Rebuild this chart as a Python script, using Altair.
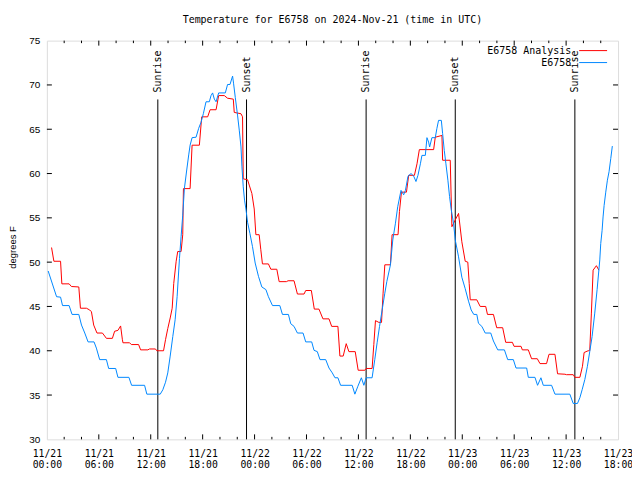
import json
import altair as alt
import pandas as pd

TITLE = "Temperature for E6758 on 2024-Nov-21 (time in UTC)"
Y_TITLE = "degrees F"
SERIES_NAMES = ["E6758 Analysis", "E6758"]
SERIES_COLORS = ["#ff0000", "#0088ff"]

# hours since 2024-11-21 00:00 UTC
TICK_HOURS = [0, 6, 12, 18, 24, 30, 36, 42, 48, 54, 60, 66]
TICK_DATES = ["11/21", "11/21", "11/21", "11/21", "11/22", "11/22", "11/22", "11/22",
              "11/23", "11/23", "11/23", "11/23"]
TICK_TIMES = ["00:00", "06:00", "12:00", "18:00"] * 3
MINOR_HOURS = [2, 4, 8, 10, 14, 16, 20, 22, 26, 28, 32, 34, 38, 40, 44, 46, 50, 52, 56, 58, 62, 64]
Y_TICKS = [30, 35, 40, 45, 50, 55, 60, 65, 70, 75]

SUN_HOURS = [12.82, 23.07, 36.89, 47.19, 61.01]
SUN_LABELS = ["Sunrise", "Sunset", "Sunrise", "Sunset", "Sunrise"]

# E6758 Analysis (red)
RED_H = [0.54, 0.81, 1.58, 1.73, 2.57, 2.84, 3.69, 3.88, 4.57, 4.95, 5.15, 5.41, 5.79, 6.42,
         6.88, 7.57, 7.83, 8.21, 8.52, 8.72, 8.79, 9.56, 9.76, 10.6, 10.83, 11.67, 11.86,
         12.55, 12.7, 13.48, 13.71, 13.97, 14.25, 14.48, 14.66, 14.94, 15.12, 15.51, 15.7,
         15.78, 16.55, 16.78, 17.62, 17.89, 18.58, 18.86, 19.55, 19.85, 20.5, 20.88, 21.54,
         21.65, 22.43, 22.61, 22.69, 23.19, 23.38, 23.69, 23.96, 24.15, 24.53, 24.72, 24.91,
         25.6, 25.88, 26.57, 26.84, 27.68, 27.87, 28.56, 28.95, 29.72, 29.91, 30.56, 30.9,
         31.44, 31.9, 32.6, 32.91, 33.63, 33.86, 34.24, 34.59, 34.9, 35.63, 35.97, 36.74,
         36.89, 37.58, 37.78, 37.97, 38.36, 38.67, 38.85, 39.05, 39.7, 39.89, 40.58, 40.74,
         40.97, 41.55, 41.81, 42.47, 42.77, 43.04, 44.69, 44.88, 45.65, 45.73, 46.61, 46.8,
         47.57, 47.95, 48.34, 48.64, 48.8, 48.92, 49.68, 50.07, 50.71, 50.91, 51.6, 51.98,
         52.67, 53.02, 53.79, 53.98, 54.79, 54.94, 55.63, 56.01, 56.67, 56.98, 57.74, 58.02,
         58.71, 59.01, 59.86, 60.04, 60.82, 61.01, 61.59, 61.89, 62.08, 62.54, 62.73, 62.92,
         63.12, 63.5, 63.78]
RED_V = [51.65, 50.1, 50.1, 47.55, 47.55, 47.25, 47.2, 44.8, 44.8, 44.6, 44.4, 42.9, 42.0, 42.0,
         41.4, 41.4, 42.2, 42.3, 42.8, 41.3, 40.9, 40.9, 40.7, 40.7, 40.1, 40.1, 40.2,
         40.2, 40.0, 40.0, 41.25, 42.5, 43.7, 44.8, 47.6, 50.1, 51.2, 51.2, 53.1,
         58.3, 58.3, 63.2, 63.2, 66.4, 66.4, 67.2, 67.2, 68.8, 68.8, 68.5, 68.4,
         66.9, 66.75, 66.4, 59.4, 59.3, 58.7, 57.75, 56.0, 53.1, 53.1, 51.4, 49.8,
         49.8, 49.2, 49.2, 47.8, 47.8, 47.9, 47.9, 46.4, 46.4, 46.8, 46.8, 44.7,
         44.7, 43.6, 43.6, 42.75, 42.75, 39.4, 39.4, 40.8, 39.9, 39.9, 37.8, 37.8,
         38.0, 38.0, 40.7, 43.4, 43.2, 43.2, 46.5, 49.7, 49.7, 53.1, 53.1, 55.7,
         57.9, 57.9, 59.8, 59.8, 61.1, 62.7, 62.7, 64.1, 64.3, 61.5, 61.5, 54.0,
         55.5, 52.3, 50.1, 50.0, 47.6, 45.75, 45.75, 45.0, 45.0, 44.1, 44.1, 42.6,
         42.6, 40.95, 40.95, 40.5, 40.5, 40.1, 40.1, 39.1, 39.1, 38.55, 38.55, 39.6,
         39.6, 37.4, 37.35, 37.3, 37.3, 37.0, 37.0, 38.25, 39.8, 40.0, 40.0, 44.25,
         49.1, 49.6, 49.1]

# E6758 observations (blue)
BLUE_H = [0.15, 1.12, 1.58, 1.81, 2.57, 2.91, 3.69, 4.0, 4.38, 4.76, 5.45, 5.72, 6.1, 6.88,
          7.14, 7.95, 8.21, 9.48, 9.79, 11.29, 11.55, 13.1, 13.4, 13.71, 13.97, 14.25, 14.55,
          14.82, 15.05, 15.32, 15.51, 15.7, 15.89, 16.16, 16.39, 16.55, 16.78, 17.24, 17.54,
          17.82, 18.08, 18.39, 18.77, 18.97, 19.15, 19.35, 19.55, 19.85, 20.62, 20.88, 21.16,
          21.46, 21.57, 21.77, 22.03, 22.23, 22.43, 22.54, 22.69, 22.84, 23.0, 23.19, 23.46,
          23.76, 24.07, 24.45, 24.84, 25.31, 25.6, 26.07, 26.92, 27.22, 27.91, 28.18, 28.56,
          28.95, 29.6, 29.91, 30.6, 30.87, 31.25, 31.56, 32.22, 32.6, 32.98, 33.29, 33.63,
          33.94, 35.28, 35.59, 35.94, 36.34, 36.63, 36.89, 37.58, 37.89, 38.16, 38.44, 38.74,
          39.05, 39.28, 39.7, 39.97, 40.28, 40.54, 40.92, 41.23, 41.43, 41.73, 42.08, 42.39,
          42.65, 42.88, 43.16, 43.34, 43.73, 43.92, 44.11, 44.23, 44.49, 44.88, 45.07, 45.26,
          45.58, 45.73, 45.92, 46.11, 46.34, 46.53, 46.73, 46.99, 47.19, 47.57, 47.95, 48.34,
          48.72, 49.03, 49.33, 49.68, 49.87, 50.26, 50.65, 51.29, 51.6, 52.1, 52.87, 53.25,
          53.9, 54.21, 55.44, 55.63, 56.4, 56.7, 57.09, 57.36, 58.32, 58.71, 60.43, 60.82,
          61.31, 61.59, 61.85, 62.16, 62.46, 62.73, 63.0, 63.31, 63.58, 63.89, 64.0, 64.16,
          64.27, 64.39, 64.58, 64.77, 64.96, 65.16, 65.34]
BLUE_V = [49.0, 46.1, 46.05, 45.1, 45.1, 44.1, 44.1, 42.9, 42.0, 41.0, 41.0, 40.3, 39.0, 39.0,
          38.0, 38.0, 37.0, 37.0, 36.1, 36.1, 35.1, 35.1, 35.6, 36.45, 37.5, 39.4, 41.6,
          43.5, 46.1, 50.4, 52.9, 55.3, 58.3, 60.4, 62.1, 63.2, 64.05, 64.1, 65.1,
          65.8, 66.75, 68.1, 68.1, 68.8, 69.1, 68.4, 68.1, 69.1, 69.1, 70.05, 70.05,
          71.0, 70.2, 68.6, 66.6, 64.9, 63.0, 60.75, 58.5, 57.0, 56.0, 54.5, 53.25,
          51.75, 49.9, 48.4, 47.2, 46.9, 46.1, 45.1, 45.1, 44.1, 44.1, 43.05, 42.75,
          42.0, 42.0, 41.0, 41.0, 40.05, 39.9, 39.0, 39.0, 38.05, 37.5, 36.95, 36.95,
          36.1, 36.1, 35.1, 36.0, 36.95, 36.1, 36.95, 36.95, 39.0, 40.9, 42.75, 44.6,
          46.5, 47.8, 49.7, 52.5, 54.4, 56.25, 58.1, 57.6, 58.1, 59.7, 60.0, 59.7,
          59.1, 59.8, 61.1, 62.05, 62.05, 64.05, 63.55, 63.0, 64.05, 64.05, 65.1, 66.0,
          66.0, 64.5, 62.6, 61.1, 59.25, 57.4, 55.9, 54.4, 52.5, 50.6, 48.3, 47.0,
          45.6, 44.6, 44.1, 44.1, 43.1, 42.75, 42.0, 42.0, 41.1, 40.1, 40.1, 39.0,
          39.0, 38.05, 38.05, 37.0, 37.0, 36.1, 36.95, 36.1, 36.1, 35.1, 35.1, 34.05,
          34.05, 34.7, 35.6, 36.75, 38.25, 39.9, 41.6, 44.25, 46.9, 50.25, 52.1, 53.6,
          55.1, 56.4, 57.9, 59.25, 60.2, 61.7, 63.1]

W, H = 573, 400
MONO = "DejaVu Sans Mono"
SANS = "Liberation Sans"

label_expr = "[" + json.dumps(TICK_DATES) + "[round(datum.value/6)], " + \
    json.dumps(TICK_TIMES) + "[round(datum.value/6)]]"

xscale = alt.Scale(domain=[0, 66], nice=False, zero=False)
yscale = alt.Scale(domain=[30, 75], nice=False, zero=False)
xaxis = alt.Axis(values=TICK_HOURS, labelExpr=label_expr, labelFont=MONO, labelFontSize=9.8,
                 labelColor="black", labelLineHeight=11.5, labelPadding=9, labelBaseline="top",
                 labelFlush=False, labelOverlap=False, ticks=False, domain=False, grid=False,
                 title=None)
yaxis = alt.Axis(values=Y_TICKS, labelFont=SANS, labelFontSize=10, labelColor="black",
                 labelPadding=7, ticks=False, domain=False, grid=False, title=Y_TITLE,
                 titleFont=SANS, titleFontSize=9.5, titleFontWeight="normal", titleColor="black",
                 titleAngle=270, titleX=-34, titleY=207, titleAlign="center",
                 titleBaseline="middle")

X = alt.X("h:Q", scale=xscale, axis=xaxis)
Y = alt.Y("v:Q", scale=yscale, axis=yaxis)

red_df = pd.DataFrame({"h": RED_H, "v": RED_V})
blue_df = pd.DataFrame({"h": BLUE_H, "v": BLUE_V})
xmaj_df = pd.DataFrame({"h": TICK_HOURS[1:-1]})
xmin_df = pd.DataFrame({"h": MINOR_HOURS})
ytick_df = pd.DataFrame({"v": Y_TICKS[1:-1]})
sun_df = pd.DataFrame({"h": SUN_HOURS, "label": SUN_LABELS})

layers = []
# inward ticks
for df, size in [(xmaj_df, 5), (xmin_df, 2.5)]:
    layers.append(alt.Chart(df).mark_rule(color="black", strokeWidth=1).encode(
        x=X, y=alt.value(H - size), y2=alt.value(H)))
    layers.append(alt.Chart(df).mark_rule(color="black", strokeWidth=1).encode(
        x=X, y=alt.value(0), y2=alt.value(size)))
layers.append(alt.Chart(ytick_df).mark_rule(color="black", strokeWidth=1).encode(
    y=Y, x=alt.value(0), x2=alt.value(5)))
layers.append(alt.Chart(ytick_df).mark_rule(color="black", strokeWidth=1).encode(
    y=Y, x=alt.value(W - 5), x2=alt.value(W)))

# sunrise / sunset
layers.append(alt.Chart(sun_df).mark_rule(color="black", strokeWidth=1).encode(
    x=X, y=alt.value(59), y2=alt.value(H)))
layers.append(alt.Chart(sun_df).mark_text(
    angle=270, align="left", baseline="middle", font=MONO, fontSize=10, color="black"
).encode(x=X, y=alt.value(52), text="label:N"))

# series
layers.append(alt.Chart(red_df).mark_line(color=SERIES_COLORS[0], strokeWidth=1).encode(x=X, y=Y))
layers.append(alt.Chart(blue_df).mark_line(color=SERIES_COLORS[1], strokeWidth=1).encode(x=X, y=Y))

# legend
for i, (name, col) in enumerate(zip(SERIES_NAMES, SERIES_COLORS)):
    ldf = pd.DataFrame({"name": [name]})
    yy = 10 + 12 * i
    layers.append(alt.Chart(ldf).mark_text(
        align="right", baseline="middle", font=MONO, fontSize=10, color="black"
    ).encode(text="name:N", x=alt.value(526), y=alt.value(yy)))
    layers.append(alt.Chart(ldf).mark_rule(color=col, strokeWidth=1).encode(
        x=alt.value(534), x2=alt.value(562), y=alt.value(yy)))

chart = alt.layer(*layers).properties(
    width=W, height=H,
    title=alt.Title(TITLE, font=MONO, fontSize=10, fontWeight="normal", color="black",
                    anchor="middle", offset=11),
    autosize=alt.AutoSizeParams(type="none"),
    padding={"left": 39, "top": 32, "right": 14, "bottom": 30},
).configure_view(stroke="black", strokeWidth=1).configure(background="white")

chart.save("out.html", embed_options={"renderer": "svg", "actions": False})
